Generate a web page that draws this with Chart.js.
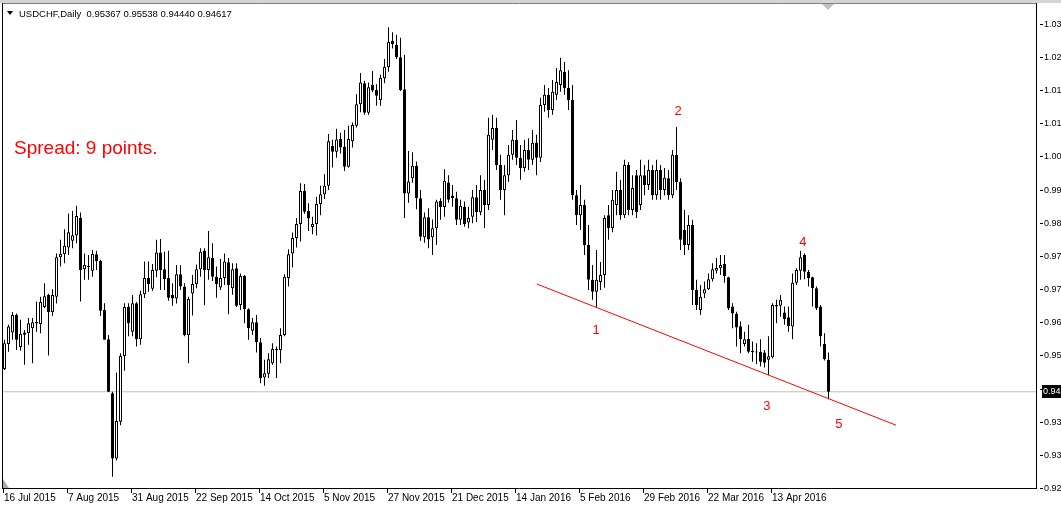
<!DOCTYPE html>
<html>
<head>
<meta charset="utf-8">
<script src="https://cdn.jsdelivr.net/npm/chart.js@4.4.0/dist/chart.umd.min.js"></script>
<style>
html, body { margin: 0; padding: 0; background: #fff; }
canvas { display: block; }
</style>
</head>
<body>
<canvas id="chart" width="1061" height="508"></canvas>
<script>
// USDCHF daily candles, 16 Jul 2015 .. early May 2016
const opens = [
  0.9515,0.9574,0.9601,0.9642,0.9567,0.9601,0.9599,0.9611,0.9626,0.9621,
  0.9661,0.9689,0.9649,0.9685,0.9778,0.9785,0.9801,0.9817,0.9829,0.9870,
  0.9750,0.9757,0.9746,0.9785,0.9769,0.9654,0.9585,0.9458,0.9305,0.9391,
  0.9546,0.9661,0.9603,0.9670,0.9585,0.9691,0.9729,0.9704,0.9746,0.9789,
  0.9750,0.9729,0.9689,0.9681,0.9738,0.9709,0.9595,0.9693,0.9715,0.9750,
  0.9793,0.9748,0.9776,0.9732,0.9707,0.9729,0.9766,0.9705,0.9752,0.9666,
  0.9734,0.9656,0.9605,0.9625,0.9578,0.9495,0.9504,0.9529,0.9562,0.9560,
  0.9595,0.9729,0.9787,0.9823,0.9856,0.9934,0.9887,0.9849,0.9856,0.9903,
  0.9926,0.9946,1.0040,1.0026,1.0056,1.0037,0.9991,1.0051,1.0087,1.0138,
  1.0187,1.0118,1.0183,1.0171,1.0148,1.0199,1.0225,1.0287,1.0277,1.0248,
  1.0173,0.9928,0.9964,0.9993,0.9917,0.9825,0.9872,0.9825,0.9846,0.9910,
  0.9896,0.9954,0.9923,0.9917,0.9866,0.9897,0.9860,0.9873,0.9919,0.9884,
  0.9936,0.9901,1.0054,1.0082,0.9995,0.9936,0.9971,1.0019,1.0054,1.0012,
  0.9988,1.0030,1.0007,1.0047,1.0012,1.0136,1.0160,1.0124,1.0160,1.0183,
  1.0214,1.0176,1.0148,0.9924,0.9877,0.9901,0.9807,0.9725,0.9697,0.9720,
  0.9736,0.9877,0.9847,0.9901,0.9936,0.9877,0.9995,0.9889,0.9971,0.9901,
  0.9971,0.9948,0.9983,0.9924,0.9983,0.9936,0.9964,0.9924,1.0019,0.9955,
  0.9842,0.9807,0.9854,0.9701,0.9654,0.9693,0.9703,0.9726,0.9746,0.9752,
  0.9762,0.9731,0.9662,0.9645,0.9616,0.9574,0.9586,0.9558,0.9556,0.9556,
  0.9554,0.9537,0.9543,0.9666,0.9664,0.9648,0.9637,0.9615,0.9718,0.9746,
  0.9783,0.9744,0.9731,0.9705,0.9662,0.9574,0.95367
];
const highs = [
  0.9584,0.9619,0.9649,0.9646,0.9631,0.9607,0.9635,0.9635,0.9674,0.9685,
  0.9717,0.9692,0.9703,0.9787,0.9819,0.9844,0.9881,0.9887,0.9899,0.9883,
  0.9787,0.9783,0.9795,0.9793,0.9772,0.9670,0.9595,0.9462,0.9507,0.9552,
  0.9670,0.9670,0.9689,0.9673,0.9699,0.9768,0.9768,0.9762,0.9819,0.9821,
  0.9791,0.9793,0.9717,0.9760,0.9759,0.9717,0.9685,0.9736,0.9761,0.9799,
  0.9799,0.9840,0.9811,0.9756,0.9774,0.9787,0.9776,0.9764,0.9764,0.9740,
  0.9736,0.9658,0.9635,0.9642,0.9588,0.9537,0.9552,0.9576,0.9568,0.9611,
  0.9738,0.9797,0.9836,0.9870,0.9952,0.9950,0.9905,0.9873,0.9920,0.9946,
  0.9973,1.0068,1.0054,1.0080,1.0071,1.0077,1.0087,1.0095,1.0161,1.0211,
  1.0193,1.0189,1.0216,1.0185,1.0207,1.0244,1.0319,1.0307,1.0301,1.0294,
  1.0254,1.0028,1.0025,1.0003,0.9936,0.9883,0.9893,0.9867,0.9913,0.9917,
  0.9985,0.9971,0.9948,0.9932,0.9913,0.9909,0.9897,0.9936,0.9948,0.9971,
  0.9960,1.0106,1.0113,1.0106,1.0019,0.9995,1.0042,1.0077,1.0101,1.0042,
  1.0054,1.0058,1.0077,1.0066,1.0153,1.0183,1.0176,1.0195,1.0223,1.0247,
  1.0237,1.0218,1.0183,0.9936,0.9948,0.9913,0.9854,0.9760,0.9795,0.9767,
  0.9877,0.9901,0.9936,0.9979,0.9960,1.0007,1.0002,0.9971,0.9983,1.0007,
  0.9995,1.0007,0.9995,1.0007,0.9995,0.9988,0.9983,1.0030,1.0084,0.9964,
  0.9889,0.9877,0.9866,0.9725,0.9713,0.9721,0.9740,0.9764,0.9776,0.9783,
  0.9783,0.9732,0.9670,0.9650,0.9627,0.9603,0.9619,0.9580,0.9576,0.9585,
  0.9560,0.9592,0.9670,0.9678,0.9689,0.9662,0.9662,0.9740,0.9752,0.9793,
  0.9787,0.9748,0.9732,0.9709,0.9666,0.9599,0.95538
];
const lows = [
  0.9513,0.9556,0.9584,0.9560,0.9558,0.9525,0.9572,0.9529,0.9603,0.9599,
  0.9658,0.9547,0.9640,0.9669,0.9756,0.9764,0.9783,0.9799,0.9811,0.9674,
  0.9725,0.9725,0.9732,0.9748,0.9640,0.9584,0.9461,0.9262,0.9300,0.9383,
  0.9511,0.9592,0.9592,0.9568,0.9572,0.9682,0.9697,0.9699,0.9731,0.9701,
  0.9701,0.9676,0.9664,0.9669,0.9701,0.9592,0.9529,0.9641,0.9705,0.9732,
  0.9665,0.9725,0.9722,0.9683,0.9701,0.9713,0.9644,0.9690,0.9661,0.9654,
  0.9623,0.9584,0.9595,0.9554,0.9482,0.9476,0.9494,0.9525,0.9494,0.9529,
  0.9592,0.9709,0.9754,0.9801,0.9815,0.9880,0.9840,0.9832,0.9829,0.9877,
  0.9915,0.9936,0.9989,1.0012,1.0022,0.9981,0.9989,1.0036,1.0083,1.0119,
  1.0113,1.0113,1.0166,1.0134,1.0134,1.0187,1.0214,1.0269,1.0244,1.0169,
  0.9870,0.9906,0.9953,0.9891,0.9817,0.9812,0.9799,0.9783,0.9807,0.9866,
  0.9873,0.9906,0.9897,0.9854,0.9854,0.9850,0.9846,0.9858,0.9861,0.9877,
  0.9847,0.9889,1.0030,0.9983,0.9913,0.9877,0.9955,1.0007,0.9995,0.9960,
  0.9979,0.9983,0.9995,0.9971,1.0002,1.0120,1.0106,1.0113,1.0148,1.0167,
  1.0160,1.0124,0.9913,0.9854,0.9842,0.9783,0.9701,0.9678,0.9659,0.9701,
  0.9706,0.9819,0.9837,0.9877,0.9866,0.9870,0.9877,0.9877,0.9870,0.9889,
  0.9924,0.9936,0.9913,0.9913,0.9913,0.9924,0.9913,0.9917,0.9936,0.9795,
  0.9783,0.9795,0.9666,0.9654,0.9642,0.9682,0.9701,0.9721,0.9740,0.9736,
  0.9718,0.9654,0.9611,0.9568,0.9552,0.9568,0.9552,0.9532,0.9527,0.9521,
  0.9519,0.9501,0.9540,0.9623,0.9638,0.9619,0.9603,0.9585,0.9713,0.9725,
  0.9726,0.9709,0.9662,0.9654,0.9568,0.9535,0.94440
];
const closes = [
  0.9576,0.9615,0.9642,0.9584,0.9598,0.9596,0.9623,0.9625,0.9622,0.9673,
  0.9686,0.9649,0.9689,0.9778,0.9786,0.9805,0.9837,0.9830,0.9875,0.9748,
  0.9760,0.9755,0.9786,0.9769,0.9652,0.9584,0.9462,0.9305,0.9393,0.9546,
  0.9661,0.9623,0.9670,0.9585,0.9691,0.9729,0.9715,0.9748,0.9789,0.9748,
  0.9727,0.9683,0.9681,0.9738,0.9709,0.9595,0.9680,0.9715,0.9750,0.9791,
  0.9748,0.9778,0.9732,0.9715,0.9729,0.9768,0.9713,0.9750,0.9664,0.9734,
  0.9656,0.9611,0.9625,0.9578,0.9494,0.9505,0.9538,0.9562,0.9560,0.9595,
  0.9732,0.9785,0.9823,0.9856,0.9934,0.9885,0.9869,0.9856,0.9903,0.9926,
  0.9946,1.0051,1.0026,1.0055,1.0036,0.9991,1.0056,1.0089,1.0138,1.0189,
  1.0118,1.0178,1.0170,1.0158,1.0200,1.0226,1.0284,1.0279,1.0248,1.0171,
  0.9928,0.9956,0.9993,0.9917,0.9826,0.9872,0.9820,0.9846,0.9909,0.9896,
  0.9958,0.9913,0.9917,0.9866,0.9899,0.9856,0.9870,0.9919,0.9884,0.9936,
  0.9901,1.0066,1.0082,0.9995,0.9936,0.9971,1.0019,1.0054,1.0012,0.9988,
  1.0030,1.0007,1.0047,1.0012,1.0136,1.0160,1.0124,1.0167,1.0190,1.0218,
  1.0176,1.0148,0.9924,0.9877,0.9901,0.9807,0.9725,0.9697,0.9725,0.9736,
  0.9870,0.9847,0.9913,0.9936,0.9877,0.9995,0.9889,0.9941,0.9884,0.9971,
  0.9948,0.9983,0.9924,0.9983,0.9936,0.9965,0.9924,1.0019,0.9955,0.9819,
  0.9807,0.9854,0.9701,0.9666,0.9685,0.9703,0.9726,0.9750,0.9753,0.9760,
  0.9734,0.9658,0.9646,0.9613,0.9585,0.9585,0.9556,0.9555,0.9554,0.9532,
  0.9530,0.9545,0.9666,0.9662,0.9678,0.9633,0.9616,0.9718,0.9748,0.9778,
  0.9744,0.9729,0.9705,0.9658,0.9592,0.9538,0.94617
];

// axis ticks
const dateTickIndex = [0,16,32,48,64,80,96,112,128,144,160,176,192];
const dateLabels = ['16 Jul 2015','7 Aug 2015','31 Aug 2015','22 Sep 2015','14 Oct 2015','5 Nov 2015',
  '27 Nov 2015','21 Dec 2015','14 Jan 2016','5 Feb 2016','29 Feb 2016','22 Mar 2016','13 Apr 2016'];
const yTickValues = [1.0327,1.0249,1.0171,1.0093,1.0015,0.9937,0.9859,0.9781,0.9703,0.9625,0.9547,0.9469,0.9391,0.9313,0.9235];
const yTickLabels = ['1.03','1.02','1.01','1.01','1.00','0.99','0.98','0.97','0.97','0.96','0.95','0.94','0.93','0.93','0.92'];

// drawn objects
const bidPrice = 0.94617;
const trendX = [133.1, 222.9];
const trendY = [0.9715, 0.9383];
const waveText = ['1','2','3','4','5'];
const waveX = [147.9, 168.4, 190.6, 199.6, 208.6];
const waveY = [0.9607, 1.0122, 0.9428, 0.9812, 0.9386];

const xMin = -0.625, xMax = 257.875;
const yMin = 0.92354, yMax = 1.03735;

const bodyColors = opens.map((o, i) => closes[i] >= o ? '#ffffff' : '#000000');

const mtFrame = {
    id: 'mtFrame',
    beforeDraw(chart) {
        const c = chart.ctx;
        c.save();
        c.fillStyle = '#fff';
        c.fillRect(0, 0, chart.width, chart.height);
        c.restore();
    },
    afterDraw(chart) {
        const c = chart.ctx, a = chart.chartArea;
        const sx = chart.scales.x, sy = chart.scales.y;
        c.save();
        // window top edge
        c.fillStyle = '#d4d4d4';
        c.fillRect(0, 0, chart.width, 3);
        c.strokeStyle = '#808080';
        c.lineWidth = 1;
        c.beginPath();
        c.moveTo(2, 3.5); c.lineTo(a.right + 1, 3.5);
        c.stroke();

        c.strokeStyle = '#000';
        c.beginPath();
        c.moveTo(2.5, 3); c.lineTo(2.5, a.bottom + 1);
        c.moveTo(2, a.bottom + 0.5); c.lineTo(a.right + 1, a.bottom + 0.5);
        c.moveTo(a.right + 0.5, 3); c.lineTo(a.right + 0.5, a.bottom + 1);
        c.stroke();

        // shift markers
        c.fillStyle = '#c0c0c0';
        c.beginPath();
        c.moveTo(822, 4); c.lineTo(834, 4); c.lineTo(828, 10); c.closePath();
        c.fill();
        c.fillStyle = '#a8a8a8';
        c.beginPath();
        c.moveTo(3, 479); c.lineTo(3, 488); c.lineTo(9, 488); c.closePath();
        c.fill();

        // price axis
        c.font = '9px "Liberation Sans", Arial, sans-serif';
        c.fillStyle = '#000';
        c.textAlign = 'left';
        c.textBaseline = 'middle';
        yTickValues.forEach((v, i) => {
            const y = Math.round(sy.getPixelForValue(v));
            c.beginPath();
            c.moveTo(1040, y + 0.5); c.lineTo(1043, y + 0.5);
            c.stroke();
            c.fillText(yTickLabels[i], 1044, y + 1);
        });

        // bid label
        const by = Math.round(sy.getPixelForValue(bidPrice));
        c.fillStyle = '#000';
        c.fillRect(1042, by - 7, 19, 13);
        c.fillStyle = '#fff';
        c.fillText(bidPrice.toFixed(5), 1043, by);

        // time axis
        c.font = '10px "Liberation Sans", Arial, sans-serif';
        c.fillStyle = '#000';
        c.textBaseline = 'alphabetic';
        dateTickIndex.forEach((idx, i) => {
            const x = Math.floor(sx.getPixelForValue(idx)) - 1;
            c.beginPath();
            c.moveTo(x + 0.5, a.bottom); c.lineTo(x + 0.5, a.bottom + 5);
            c.stroke();
            c.fillText(dateLabels[i], x + 1, 501);
        });

        // header
        c.beginPath();
        c.moveTo(7, 11); c.lineTo(13, 11); c.lineTo(10, 15); c.closePath();
        c.fill();
        c.font = '9.5px "Liberation Sans", Arial, sans-serif';
        c.fillText('USDCHF,Daily  0.95367 0.95538 0.94440 0.94617', 19, 17);

        // annotations
        c.fillStyle = '#ff0000';
        c.font = '19px "Liberation Sans", Arial, sans-serif';
        c.fillText('Spread: 9 points.', 14, 154);
        c.font = '13px "Liberation Sans", Arial, sans-serif';
        c.textAlign = 'center';
        c.textBaseline = 'middle';
        waveText.forEach((t, i) => {
            c.fillText(t, sx.getPixelForValue(waveX[i]), sy.getPixelForValue(waveY[i]));
        });
        c.restore();
    }
};

new Chart(document.getElementById('chart'), {
    type: 'bar',
    data: {
        datasets: [{
            type: 'line',
            label: 'trend',
            data: trendX.map((x, i) => ({x: x, y: trendY[i]})),
            borderColor: '#ff0000',
            borderWidth: 1,
            pointRadius: 0,
            order: 0
        }, {
            label: 'body',
            data: opens.map((o, i) => ({x: i, y: [o, closes[i]]})),
            backgroundColor: bodyColors,
            borderColor: '#000',
            borderWidth: 1,
            borderSkipped: false,
            barThickness: 3,
            minBarLength: 1,
            inflateAmount: 0,
            grouped: false,
            order: 1
        }, {
            label: 'wick',
            data: lows.map((l, i) => ({x: i, y: [l, highs[i]]})),
            backgroundColor: '#000',
            borderWidth: 0,
            barThickness: 1,
            inflateAmount: 0,
            grouped: false,
            order: 2
        }, {
            type: 'line',
            label: 'bid',
            data: [{x: xMin, y: bidPrice}, {x: xMax, y: bidPrice}],
            borderColor: '#c0c0c0',
            borderWidth: 1,
            pointRadius: 0,
            order: 3
        }]
    },
    options: {
        responsive: false,
        animation: false,
        layout: {padding: {left: 2, top: 4, right: 25, bottom: 20}},
        scales: {
            x: {type: 'linear', min: xMin, max: xMax, offset: false, display: false},
            y: {type: 'linear', min: yMin, max: yMax, display: false}
        },
        plugins: {
            legend: {display: false},
            tooltip: {enabled: false}
        }
    },
    plugins: [mtFrame]
});
</script>
</body>
</html>
